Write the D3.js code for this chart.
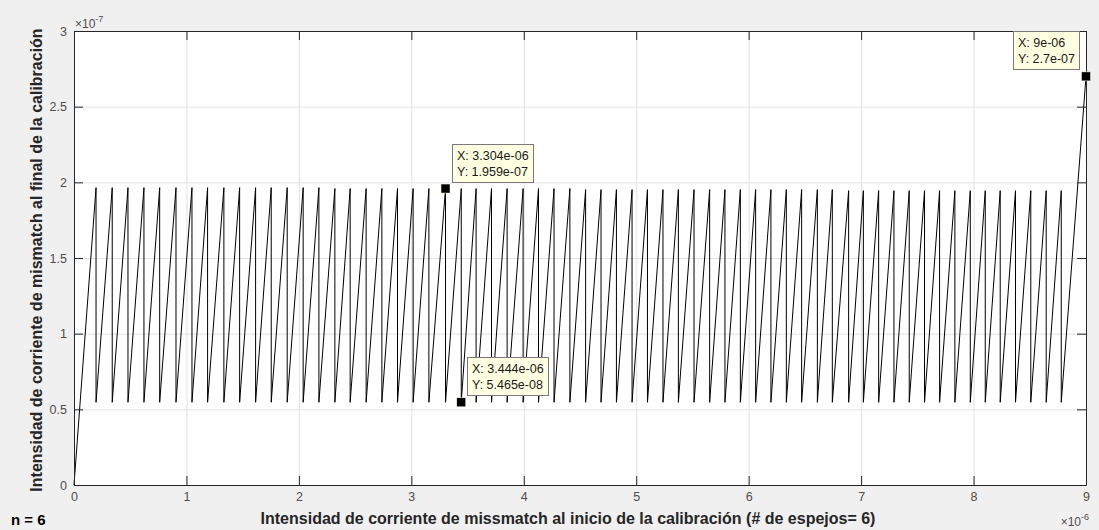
<!DOCTYPE html>
<html>
<head>
<meta charset="utf-8">
<script src="https://cdn.jsdelivr.net/npm/d3@7"></script>
<style>
  html, body { margin: 0; padding: 0; background: #f0f0f0; }
  svg { display: block; font-family: "Liberation Sans", Arial, Helvetica, sans-serif; }
</style>
</head>
<body>
<div id="chart"></div>
<script>
// valores en unidades de 1e-6 (eje x) y 1e-7 (eje y)
var xTicks = [0, 1, 2, 3, 4, 5, 6, 7, 8, 9];
var yTicks = [0, 0.5, 1, 1.5, 2, 2.5, 3];

// posiciones x de cada diente (pico y caida vertical)
var peakX = [
    0.196, 0.340, 0.480, 0.622, 0.762, 0.907, 1.049, 1.188, 1.333, 1.473,
    1.615, 1.754, 1.896, 2.038, 2.178, 2.320, 2.456, 2.598, 2.738, 2.877,
    3.016, 3.156, 3.304, 3.444, 3.576, 3.713, 3.852, 3.994, 4.131, 4.269,
    4.410, 4.550, 4.687, 4.824, 4.963, 5.100, 5.238, 5.375, 5.514, 5.653,
    5.789, 5.926, 6.062, 6.198, 6.335, 6.471, 6.611, 6.744, 6.889, 7.020,
    7.156, 7.292, 7.428, 7.564, 7.698, 7.834, 7.971, 8.104, 8.237, 8.373,
    8.509, 8.646, 8.780
];
var peakY = [
    1.965, 1.965, 1.965, 1.965, 1.965, 1.965, 1.965, 1.965, 1.965, 1.965,
    1.965, 1.965, 1.965, 1.965, 1.965, 1.959, 1.959, 1.959, 1.959, 1.959,
    1.959, 1.959, 1.959, 1.959, 1.959, 1.959, 1.959, 1.959, 1.959, 1.959,
    1.959, 1.952, 1.952, 1.952, 1.952, 1.952, 1.952, 1.952, 1.952, 1.952,
    1.952, 1.952, 1.952, 1.952, 1.952, 1.952, 1.952, 1.952, 1.945, 1.945,
    1.945, 1.945, 1.945, 1.945, 1.945, 1.945, 1.945, 1.945, 1.945, 1.945,
    1.945, 1.945, 1.945
];
var troughY = 0.5465;
var startPoint = [0, 0];
var endPoint = [9, 2.7];

var tipX = [3.304, 3.444, 9];
var tipY = [1.959, 0.5465, 2.7];
var tipLabels = [
    ['X: 3.304e-06', 'Y: 1.959e-07'],
    ['X: 3.444e-06', 'Y: 5.465e-08'],
    ['X: 9e-06', 'Y: 2.7e-07']
];
var tipSide = ['right', 'right', 'left'];

var W = 1099, H = 530;
var margin = { top: 31, right: 13, bottom: 45, left: 74 };
var width = W - margin.left - margin.right;
var height = H - margin.top - margin.bottom;

var svg = d3.select('#chart').append('svg')
    .attr('width', W)
    .attr('height', H);

svg.append('rect').attr('width', W).attr('height', H).attr('fill', '#f0f0f0');

var g = svg.append('g').attr('transform', 'translate(' + margin.left + ',' + margin.top + ')');

var x = d3.scaleLinear().domain([0, 9]).range([0, width]);
var y = d3.scaleLinear().domain([0, 3]).range([height, 0]);

g.append('rect').attr('width', width).attr('height', height).attr('fill', '#fff');

// rejilla
g.append('g')
    .attr('transform', 'translate(0,' + height + ')')
    .call(d3.axisBottom(x).tickValues(xTicks).tickSize(-height).tickFormat(''))
    .call(function (s) {
        s.select('.domain').remove();
        s.selectAll('line').attr('stroke', '#e2e2e2');
    });
g.append('g')
    .call(d3.axisLeft(y).tickValues(yTicks).tickSize(-width).tickFormat(''))
    .call(function (s) {
        s.select('.domain').remove();
        s.selectAll('line').attr('stroke', '#e2e2e2');
    });

// curva diente de sierra
var pts = [startPoint];
peakX.forEach(function (px, i) {
    pts.push([px, peakY[i]]);
    pts.push([px, troughY]);
});
pts.push(endPoint);

g.append('path')
    .datum(pts)
    .attr('fill', 'none')
    .attr('stroke', '#000')
    .attr('stroke-width', 1)
    .attr('d', d3.line().x(function (d) { return x(d[0]); }).y(function (d) { return y(d[1]); }));

// ejes (ticks hacia dentro, estilo caja)
function styleAxis(s) {
    s.select('.domain').attr('stroke', '#262626');
    s.selectAll('.tick line').attr('stroke', '#262626');
    s.selectAll('.tick text').attr('fill', '#4d4d4d').attr('font-size', 12.5);
}
g.append('g')
    .attr('transform', 'translate(0,' + height + ')')
    .call(d3.axisBottom(x).tickValues(xTicks).tickSize(-9).tickSizeOuter(0).tickPadding(7).tickFormat(d3.format('d')))
    .call(styleAxis);
g.append('g')
    .call(d3.axisTop(x).tickValues(xTicks).tickSize(-9).tickSizeOuter(0).tickFormat(''))
    .call(styleAxis);
g.append('g')
    .call(d3.axisLeft(y).tickValues(yTicks).tickSize(-9).tickSizeOuter(0).tickPadding(7).tickFormat(function (d) { return d; }))
    .call(styleAxis);
g.append('g')
    .attr('transform', 'translate(' + width + ',0)')
    .call(d3.axisRight(y).tickValues(yTicks).tickSize(-9).tickSizeOuter(0).tickFormat(''))
    .call(styleAxis);

// exponentes
var e1 = svg.append('text').attr('x', margin.left + 1).attr('y', 28)
    .attr('font-size', 12).attr('fill', '#4d4d4d');
e1.append('tspan').text('\u00d710');
e1.append('tspan').attr('dy', -6).attr('font-size', 9).text('-7');

var e2 = svg.append('text').attr('x', W - 10).attr('y', 526)
    .attr('font-size', 12).attr('fill', '#4d4d4d').attr('text-anchor', 'end');
e2.append('tspan').text('\u00d710');
e2.append('tspan').attr('dy', -6).attr('font-size', 9).text('-6');

// etiquetas
svg.append('text')
    .attr('transform', 'translate(42,' + (margin.top + height / 2 + 2) + ') rotate(-90)')
    .attr('text-anchor', 'middle')
    .attr('font-size', 16)
    .attr('font-weight', 'bold')
    .attr('fill', '#262626')
    .text('Intensidad de corriente de mismatch al final de la calibración');

svg.append('text')
    .attr('x', 568)
    .attr('y', 524)
    .attr('text-anchor', 'middle')
    .attr('font-size', 16)
    .attr('font-weight', 'bold')
    .attr('fill', '#262626')
    .text('Intensidad de corriente de missmatch al inicio de la calibración (# de espejos= 6)');

svg.append('text')
    .attr('x', 11)
    .attr('y', 525)
    .attr('font-size', 15)
    .attr('font-weight', 'bold')
    .attr('fill', '#000')
    .text('n = 6');

// datatips
tipX.forEach(function (tx, i) {
    var mx = x(tx), my = y(tipY[i]);
    var tip = g.append('g');
    var box = tip.append('rect')
        .attr('fill', '#ffffe1')
        .attr('stroke', '#7a7a7a')
        .attr('stroke-width', 1);
    var t1 = tip.append('text').attr('font-size', 12.5).attr('fill', '#1a1a1a').text(tipLabels[i][0]);
    var t2 = tip.append('text').attr('font-size', 12.5).attr('fill', '#1a1a1a').text(tipLabels[i][1]);
    var tw = Math.max(t1.node().getComputedTextLength(), t2.node().getComputedTextLength());
    var bw = Math.round(tw + 9), bh = 38;
    var bx = tipSide[i] === 'right' ? mx + 6 : mx - 7 - bw;
    var by = my - 7 - bh;
    box.attr('x', Math.round(bx) + 0.5).attr('y', Math.round(by) + 0.5).attr('width', bw).attr('height', bh);
    t1.attr('x', Math.round(bx) + 5).attr('y', Math.round(by) + 16);
    t2.attr('x', Math.round(bx) + 5).attr('y', Math.round(by) + 32);
    tip.append('rect')
        .attr('x', mx - 4.5).attr('y', my - 4.5)
        .attr('width', 9).attr('height', 9)
        .attr('fill', '#000')
        .attr('stroke', '#ffffe1')
        .attr('stroke-width', 0.5);
});
</script>
</body>
</html>
